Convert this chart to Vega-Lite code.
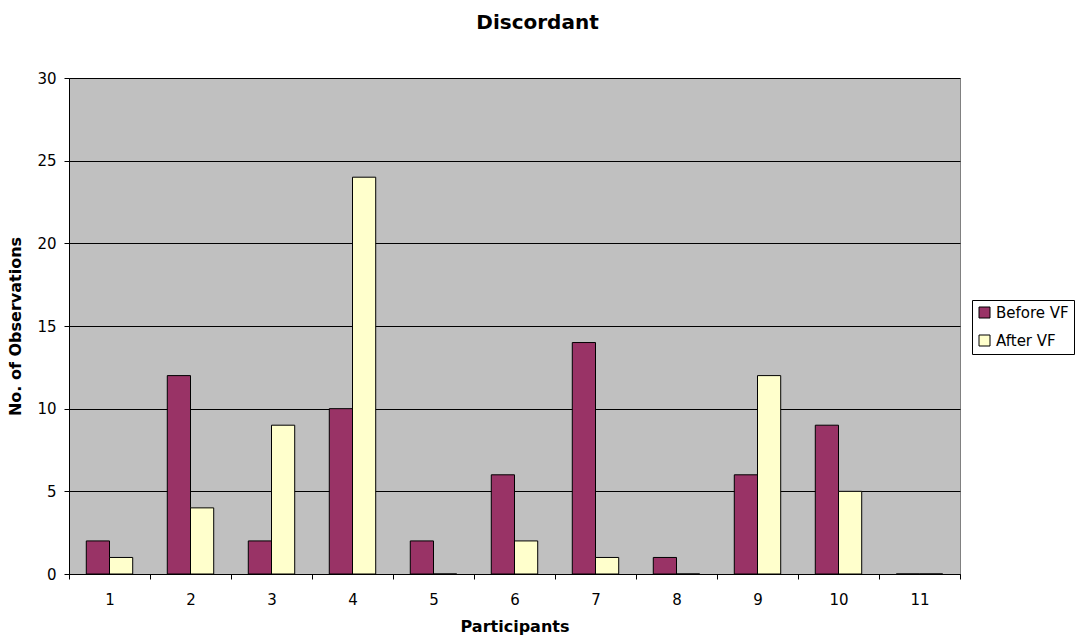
{
  "$schema": "https://vega.github.io/schema/vega-lite/v6.json",
  "autosize": {"type": "none"},
  "padding": {"left": 69, "top": 78, "right": 123, "bottom": 66},
  "width": 891,
  "height": 496,
  "background": "white",
  "title": {
    "text": "Discordant",
    "font": "DejaVu Sans",
    "fontSize": 20,
    "fontWeight": "bold",
    "color": "black",
    "anchor": "middle",
    "dx": 23,
    "offset": 38
  },
  "config": {
    "view": {"fill": "#C0C0C0", "stroke": "#808080", "strokeWidth": 1},
    "axis": {
      "labelFont": "DejaVu Sans",
      "labelFontSize": 15,
      "labelColor": "black",
      "titleFont": "DejaVu Sans",
      "titleFontSize": 16,
      "titleFontWeight": "bold",
      "titleColor": "black",
      "domainColor": "black",
      "tickColor": "black",
      "tickSize": 5
    }
  },
  "data": {
    "values": [
      {"participant": 1, "series": "Before VF", "count": 2},
      {"participant": 1, "series": "After VF", "count": 1},
      {"participant": 2, "series": "Before VF", "count": 12},
      {"participant": 2, "series": "After VF", "count": 4},
      {"participant": 3, "series": "Before VF", "count": 2},
      {"participant": 3, "series": "After VF", "count": 9},
      {"participant": 4, "series": "Before VF", "count": 10},
      {"participant": 4, "series": "After VF", "count": 24},
      {"participant": 5, "series": "Before VF", "count": 2},
      {"participant": 5, "series": "After VF", "count": 0},
      {"participant": 6, "series": "Before VF", "count": 6},
      {"participant": 6, "series": "After VF", "count": 2},
      {"participant": 7, "series": "Before VF", "count": 14},
      {"participant": 7, "series": "After VF", "count": 1},
      {"participant": 8, "series": "Before VF", "count": 1},
      {"participant": 8, "series": "After VF", "count": 0},
      {"participant": 9, "series": "Before VF", "count": 6},
      {"participant": 9, "series": "After VF", "count": 12},
      {"participant": 10, "series": "Before VF", "count": 9},
      {"participant": 10, "series": "After VF", "count": 5},
      {"participant": 11, "series": "Before VF", "count": 0},
      {"participant": 11, "series": "After VF", "count": 0}
    ]
  },
  "mark": {"type": "bar", "stroke": "black", "strokeWidth": 1},
  "encoding": {
    "x": {
      "field": "participant",
      "type": "ordinal",
      "title": "Participants",
      "scale": {"paddingInner": 0, "paddingOuter": 0},
      "axis": {
        "labelAngle": 0,
        "tickBand": "extent",
        "labelPadding": 13,
        "titlePadding": 11,
        "grid": false
      }
    },
    "xOffset": {
      "field": "series",
      "type": "nominal",
      "sort": ["Before VF", "After VF"],
      "scale": {"paddingInner": 0, "paddingOuter": 0.745}
    },
    "y": {
      "field": "count",
      "type": "quantitative",
      "title": "No. of Observations",
      "scale": {"domain": [0, 30]},
      "axis": {
        "values": [0, 5, 10, 15, 20, 25, 30],
        "grid": true,
        "gridColor": "black",
        "gridOpacity": 1,
        "labelPadding": 8,
        "titlePadding": 13
      }
    },
    "color": {
      "field": "series",
      "type": "nominal",
      "sort": ["Before VF", "After VF"],
      "scale": {"domain": ["Before VF", "After VF"], "range": ["#993366", "#FFFFCC"]},
      "legend": {
        "title": null,
        "orient": "none",
        "legendX": 903,
        "legendY": 222,
        "symbolType": "square",
        "symbolSize": 121,
        "symbolStrokeColor": "black",
        "symbolStrokeWidth": 1,
        "symbolOpacity": 1,
        "labelFont": "DejaVu Sans",
        "labelFontSize": 15,
        "labelColor": "black",
        "labelOffset": 4,
        "rowPadding": 12,
        "padding": 5,
        "strokeColor": "black",
        "fillColor": "white"
      }
    }
  }
}
